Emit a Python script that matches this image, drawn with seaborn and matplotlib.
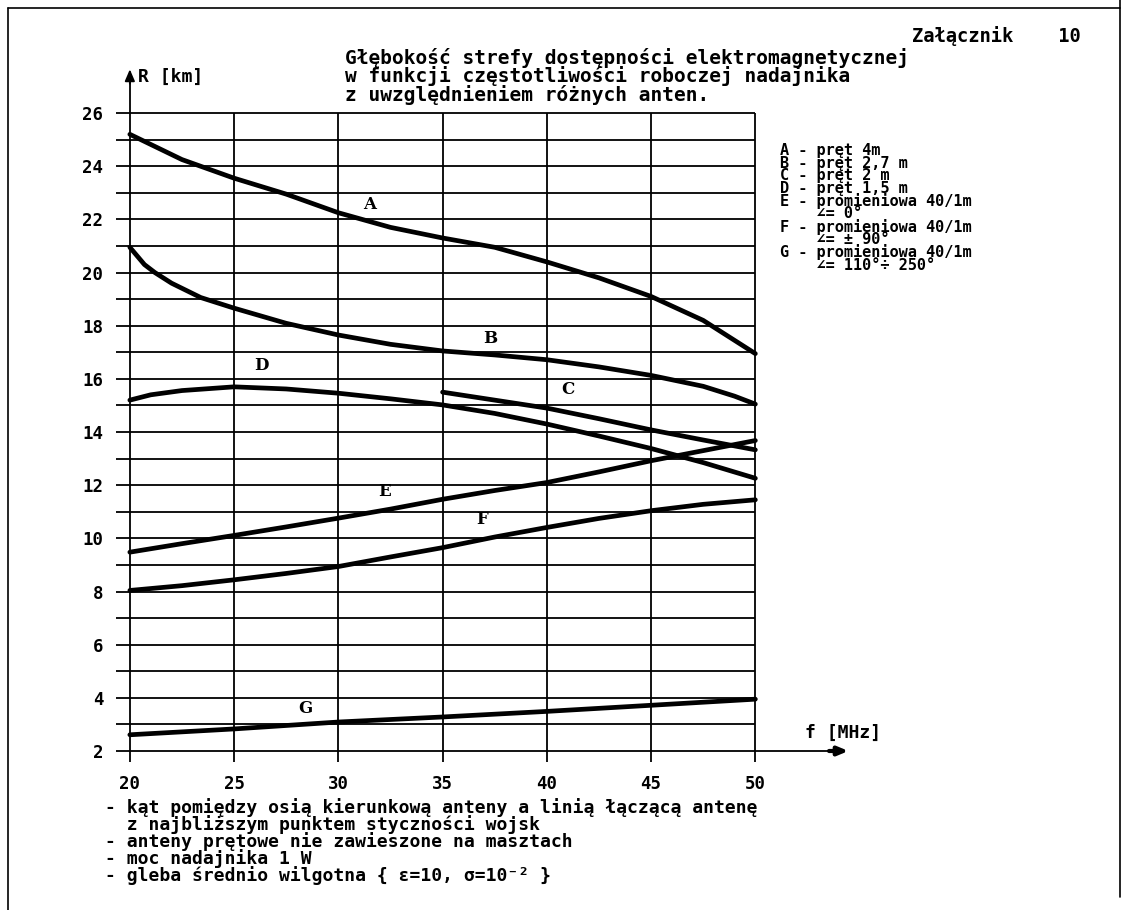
import matplotlib
matplotlib.use("Agg")
import matplotlib.pyplot as plt
from matplotlib.lines import Line2D
import seaborn as sns
import pandas as pd

# ---------------- data ----------------
a_f = [20, 22.5, 25, 27.5, 30, 32.5, 35, 37.5, 40, 42.5, 45, 47.5, 50]
a_r = [25.2, 24.25, 23.55, 22.95, 22.25, 21.7, 21.3, 20.95, 20.4, 19.8, 19.1, 18.2, 16.95]

b_f = [20, 20.7, 21.2, 22, 23.4, 25, 27.5, 30, 32.5, 35, 37.5, 40, 42.5, 45, 47.5, 49, 50]
b_r = [20.95, 20.3, 20.0, 19.6, 19.06, 18.66, 18.09, 17.65, 17.3, 17.05, 16.9, 16.72, 16.45, 16.13, 15.72, 15.35, 15.05]

c_f = [35, 37.5, 40, 42.5, 45, 47.5, 50]
c_r = [15.5, 15.2, 14.9, 14.5, 14.08, 13.7, 13.33]

d_f = [20, 21, 22.5, 25, 27.5, 30, 32.5, 35, 37.5, 40, 42.5, 45, 47.5, 50]
d_r = [15.2, 15.4, 15.56, 15.7, 15.62, 15.46, 15.25, 15.02, 14.7, 14.3, 13.85, 13.38, 12.85, 12.26]

e_f = [20, 22.5, 25, 27.5, 30, 32.5, 35, 37.5, 40, 42.5, 45, 47.5, 50]
e_r = [9.48, 9.8, 10.11, 10.43, 10.76, 11.1, 11.47, 11.8, 12.1, 12.5, 12.92, 13.3, 13.68]

f_f = [20, 22.5, 25, 27.5, 30, 32.5, 35, 37.5, 40, 42.5, 45, 47.5, 50]
f_r = [8.04, 8.22, 8.44, 8.68, 8.94, 9.3, 9.65, 10.05, 10.41, 10.75, 11.04, 11.28, 11.45]

g_f = [20, 25, 30, 35, 40, 45, 50]
g_r = [2.61, 2.83, 3.09, 3.28, 3.49, 3.72, 3.95]

curve_names = ["A", "B", "C", "D", "E", "F", "G"]
label_pos_f = [31.5, 37.3, 41.0, 26.3, 32.2, 36.9, 28.4]
label_pos_r = [22.55, 17.5, 15.6, 16.5, 11.75, 10.7, 3.6]

freq_ticks = [20, 25, 30, 35, 40, 45, 50]
r_ticks = [2, 4, 6, 8, 10, 12, 14, 16, 18, 20, 22, 24, 26]
r_grid = list(range(2, 27))

title_lines = [
    "Głębokość strefy dostępności elektromagnetycznej",
    "w funkcji częstotliwości roboczej nadajnika",
    "z uwzględnieniem różnych anten.",
]
legend_lines = [
    "A - pręt 4m",
    "B - pręt 2,7 m",
    "C - pręt 2 m",
    "D - pręt 1,5 m",
    "E - promieniowa 40/1m",
    "    ∠= 0°",
    "F - promieniowa 40/1m",
    "    ∠= ± 90°",
    "G - promieniowa 40/1m",
    "    ∠= 110°÷ 250°",
]
note_lines = [
    "- kąt pomiędzy osią kierunkową anteny a linią łączącą antenę",
    "  z najbliższym punktem styczności wojsk",
    "- anteny prętowe nie zawieszone na masztach",
    "- moc nadajnika 1 W",
    "- gleba średnio wilgotna { ε=10, σ=10⁻² }",
]

# ---------------- long-form table ----------------
frames = []
for name, fx, rx in zip(curve_names, [a_f, b_f, c_f, d_f, e_f, f_f, g_f],
                        [a_r, b_r, c_r, d_r, e_r, f_r, g_r]):
    frames.append(pd.DataFrame({"f": fx, "R": rx, "curve": name}))
df = pd.concat(frames, ignore_index=True)

# ---------------- figure ----------------
sns.set_style("white")
plt.rcParams["font.family"] = ["DejaVu Sans Mono", "DejaVu Sans"]
plt.rcParams["font.weight"] = "bold"
plt.rcParams["text.color"] = "black"
plt.rcParams["xtick.color"] = "black"
plt.rcParams["ytick.color"] = "black"

W, H = 1129, 910
fig = plt.figure(figsize=(W / 100, H / 100), dpi=100)
fig.patch.set_facecolor("white")
ax = fig.add_axes([109 / W, 140.4 / H, 750.6 / W, 709.7 / H])
ax.set_xlim(19, 55)
ax.set_ylim(1.3, 28)

# grid (drawn only over the chart area, like the original)
for r in r_grid:
    ax.hlines(r, 19.35, 50, color="black", lw=1.3, zorder=1)
ax.hlines(2, 50, 54.2, color="black", lw=1.3, zorder=1)
for fq in freq_ticks:
    ax.vlines(fq, 1.6, 26, color="black", lw=1.3, zorder=1)
ax.vlines(20, 26, 27.2, color="black", lw=1.3, zorder=1)
ax.annotate("", xy=(20, 27.75), xytext=(20, 27.0),
            arrowprops=dict(arrowstyle="-|>,head_length=0.7,head_width=0.3",
                            color="black", lw=1.3), zorder=2)
ax.annotate("", xy=(54.6, 2), xytext=(53.4, 2),
            arrowprops=dict(arrowstyle="-|>,head_length=0.6,head_width=0.25",
                            color="black", lw=3), zorder=2)

sns.lineplot(data=df, x="f", y="R", hue="curve", units="curve", estimator=None,
             sort=False, palette={n: "black" for n in curve_names},
             linewidth=3.4, legend=False, ax=ax, zorder=3)

for n, fx, rx in zip(curve_names, label_pos_f, label_pos_r):
    ax.text(fx, rx, n, family="DejaVu Serif", fontweight="bold", fontsize=12,
            ha="center", va="center", zorder=4)

ax.text(20.4, 27.35, "R [km]", fontsize=13, fontweight="bold", va="center", ha="left")
ax.text(52.4, 2.68, "f [MHz]", fontsize=13, fontweight="bold", va="center", ha="left")

ax.set_xticks(freq_ticks)
ax.set_yticks(r_ticks)
ax.set_xticklabels([str(v) for v in freq_ticks])
ax.set_yticklabels([str(v) for v in r_ticks])
ax.tick_params(axis="both", length=0, labelsize=12.5, labelcolor="black")
ax.tick_params(axis="y", pad=4)
ax.tick_params(axis="x", pad=4)
for lab in ax.get_xticklabels() + ax.get_yticklabels():
    lab.set_fontweight("bold")
ax.set_xlabel("")
ax.set_ylabel("")
for s in ax.spines.values():
    s.set_visible(False)
ax.set_facecolor("none")


def fblock(x, y_base, lines, size, pitch_px):
    em = size * 100 / 72.0
    ls = pitch_px / (1.01 * em)
    y_top = y_base - 0.78 * em
    fig.text(x / W, 1 - y_top / H, "\n".join(lines), va="top", ha="left",
             fontweight="bold", fontsize=size, linespacing=ls, color="black")


fblock(912, 41, ["Załącznik    10"], 13.5, 17)
fblock(345, 63, title_lines, 14, 18)
fblock(780, 155, legend_lines, 11, 12.2)
fblock(105, 812, note_lines, 13, 15.8)

# page frame of the scanned sheet
for (x0, y0, x1, y1) in [(8, 8, 1120, 8), (8, 8, 8, 910), (1120, 0, 1120, 897)]:
    fig.add_artist(Line2D([x0 / W, x1 / W], [1 - y0 / H, 1 - y1 / H],
                          transform=fig.transFigure, color="black", lw=1.2))

fig.savefig("out.png", dpi=100, facecolor="white")
